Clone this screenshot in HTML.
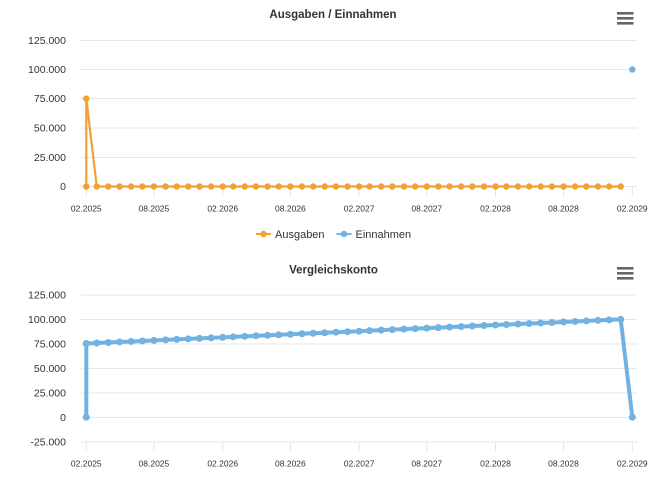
<!DOCTYPE html>
<html><head><meta charset="utf-8"><style>
html,body{margin:0;padding:0;background:#fff;}
svg{display:block;font-family:"Liberation Sans",sans-serif;}
.yl{font-size:10.5px;fill:#333;text-anchor:end;}
.xl{font-size:8.5px;fill:#333;text-anchor:middle;}
.t{font-size:11.5px;font-weight:bold;fill:#333;text-anchor:middle;}
.g{stroke:#e6e6e6;stroke-width:1;}
.tk{stroke:#e6e6e6;stroke-width:1;}
</style></head><body>
<svg width="659" height="483" viewBox="0 0 659 483" xmlns="http://www.w3.org/2000/svg">
<defs>
<marker id="mo" markerUnits="userSpaceOnUse" markerWidth="10" markerHeight="10" refX="5" refY="5"><circle cx="5" cy="5" r="3.2" fill="#f0a12f"/></marker>
<marker id="mb" markerUnits="userSpaceOnUse" markerWidth="12" markerHeight="12" refX="6" refY="6"><circle cx="6" cy="6" r="3.5" fill="#72b2e2"/></marker>
</defs>

<!-- TOP CHART -->
<text class="t" x="333" y="18">Ausgaben / Einnahmen</text>
<rect x="617" y="12" width="16.5" height="2.6" fill="#666"/>
<rect x="617" y="17" width="16.5" height="2.6" fill="#666"/>
<rect x="617" y="22" width="16.5" height="2.6" fill="#666"/>

<line class="g" x1="81" x2="637" y1="40.5" y2="40.5"/>
<line class="g" x1="81" x2="637" y1="69.5" y2="69.5"/>
<line class="g" x1="81" x2="637" y1="98.5" y2="98.5"/>
<line class="g" x1="81" x2="637" y1="128" y2="128"/>
<line class="g" x1="81" x2="637" y1="157.5" y2="157.5"/>
<line class="g" x1="81" x2="637" y1="186.5" y2="186.5"/>

<text class="yl" x="66" y="44.2">125.000</text>
<text class="yl" x="66" y="73.2">100.000</text>
<text class="yl" x="66" y="102.2">75.000</text>
<text class="yl" x="66" y="131.7">50.000</text>
<text class="yl" x="66" y="161.2">25.000</text>
<text class="yl" x="66" y="190.2">0</text>

<g class="tk">
<line x1="86.3" x2="86.3" y1="187" y2="197"/>
<line x1="153.9" x2="153.9" y1="187" y2="197"/>
<line x1="222.7" x2="222.7" y1="187" y2="197"/>
<line x1="290.4" x2="290.4" y1="187" y2="197"/>
<line x1="359.1" x2="359.1" y1="187" y2="197"/>
<line x1="426.8" x2="426.8" y1="187" y2="197"/>
<line x1="495.5" x2="495.5" y1="187" y2="197"/>
<line x1="563.5" x2="563.5" y1="187" y2="197"/>
<line x1="632.3" x2="632.3" y1="187" y2="197"/>
</g>
<text class="xl" x="86.3" y="211.7">02.2025</text>
<text class="xl" x="153.9" y="211.7">08.2025</text>
<text class="xl" x="222.7" y="211.7">02.2026</text>
<text class="xl" x="290.4" y="211.7">08.2026</text>
<text class="xl" x="359.1" y="211.7">02.2027</text>
<text class="xl" x="426.8" y="211.7">08.2027</text>
<text class="xl" x="495.5" y="211.7">02.2028</text>
<text class="xl" x="563.5" y="211.7">08.2028</text>
<text class="xl" x="632.3" y="211.7">02.2029</text>

<path fill="none" stroke="#f0a12f" stroke-width="2.2" stroke-linejoin="round" marker-start="url(#mo)" marker-mid="url(#mo)" marker-end="url(#mo)"
d="M86.3,186.5 L86.3,98.6 L96.76,186.5 L108.35,186.5 L119.56,186.5 L131.15,186.5 L142.36,186.5 L153.94,186.5 L165.53,186.5 L176.74,186.5 L188.32,186.5 L199.54,186.5 L211.12,186.5 L222.71,186.5 L233.17,186.5 L244.76,186.5 L255.97,186.5 L267.55,186.5 L278.77,186.5 L290.35,186.5 L301.94,186.5 L313.15,186.5 L324.73,186.5 L335.94,186.5 L347.53,186.5 L359.12,186.5 L369.58,186.5 L381.17,186.5 L392.38,186.5 L403.96,186.5 L415.17,186.5 L426.76,186.5 L438.34,186.5 L449.56,186.5 L461.14,186.5 L472.35,186.5 L483.94,186.5 L495.52,186.5 L506.36,186.5 L517.95,186.5 L529.16,186.5 L540.74,186.5 L551.95,186.5 L563.54,186.5 L575.13,186.5 L586.34,186.5 L597.92,186.5 L609.13,186.5 L620.72,186.5"/>
<circle cx="632.3" cy="69.5" r="3.2" fill="#72b2e2"/>

<!-- Legend -->
<line x1="256" x2="271" y1="234" y2="234" stroke="#f0a12f" stroke-width="2"/>
<circle cx="263.5" cy="234" r="3.2" fill="#f0a12f"/>
<text x="275" y="238" font-size="11" fill="#333">Ausgaben</text>
<line x1="336.5" x2="351.5" y1="234" y2="234" stroke="#72b2e2" stroke-width="2"/>
<circle cx="344" cy="234" r="3.2" fill="#72b2e2"/>
<text x="355.5" y="238" font-size="11" fill="#333">Einnahmen</text>

<!-- BOTTOM CHART -->
<text class="t" x="333.5" y="273.3">Vergleichskonto</text>
<rect x="617" y="267" width="16.5" height="2.6" fill="#666"/>
<rect x="617" y="272" width="16.5" height="2.6" fill="#666"/>
<rect x="617" y="277" width="16.5" height="2.6" fill="#666"/>

<line class="g" x1="81" x2="637" y1="295" y2="295"/>
<line class="g" x1="81" x2="637" y1="319.5" y2="319.5"/>
<line class="g" x1="81" x2="637" y1="344" y2="344"/>
<line class="g" x1="81" x2="637" y1="368.5" y2="368.5"/>
<line class="g" x1="81" x2="637" y1="393" y2="393"/>
<line class="g" x1="81" x2="637" y1="417.5" y2="417.5"/>
<line class="g" x1="81" x2="637" y1="442" y2="442"/>

<text class="yl" x="66" y="298.7">125.000</text>
<text class="yl" x="66" y="323.2">100.000</text>
<text class="yl" x="66" y="347.7">75.000</text>
<text class="yl" x="66" y="372.2">50.000</text>
<text class="yl" x="66" y="396.7">25.000</text>
<text class="yl" x="66" y="421.2">0</text>
<text class="yl" x="66" y="445.7">-25.000</text>

<g class="tk">
<line x1="86.3" x2="86.3" y1="442" y2="452"/>
<line x1="153.9" x2="153.9" y1="442" y2="452"/>
<line x1="222.7" x2="222.7" y1="442" y2="452"/>
<line x1="290.4" x2="290.4" y1="442" y2="452"/>
<line x1="359.1" x2="359.1" y1="442" y2="452"/>
<line x1="426.8" x2="426.8" y1="442" y2="452"/>
<line x1="495.5" x2="495.5" y1="442" y2="452"/>
<line x1="563.5" x2="563.5" y1="442" y2="452"/>
<line x1="632.3" x2="632.3" y1="442" y2="452"/>
</g>
<text class="xl" x="86.3" y="466.3">02.2025</text>
<text class="xl" x="153.9" y="466.3">08.2025</text>
<text class="xl" x="222.7" y="466.3">02.2026</text>
<text class="xl" x="290.4" y="466.3">08.2026</text>
<text class="xl" x="359.1" y="466.3">02.2027</text>
<text class="xl" x="426.8" y="466.3">08.2027</text>
<text class="xl" x="495.5" y="466.3">02.2028</text>
<text class="xl" x="563.5" y="466.3">08.2028</text>
<text class="xl" x="632.3" y="466.3">02.2029</text>

<path fill="none" stroke="#72b2e2" stroke-width="4" stroke-linejoin="round" marker-start="url(#mb)" marker-mid="url(#mb)" marker-end="url(#mb)"
d="M86.3,417.2 L86.3,343.5 L96.76,342.99 L108.35,342.47 L119.56,341.96 L131.15,341.45 L142.36,340.94 L153.94,340.42 L165.53,339.91 L176.74,339.40 L188.32,338.88 L199.54,338.37 L211.12,337.86 L222.71,337.34 L233.17,336.83 L244.76,336.32 L255.97,335.81 L267.55,335.29 L278.77,334.78 L290.35,334.27 L301.94,333.75 L313.15,333.24 L324.73,332.73 L335.94,332.21 L347.53,331.70 L359.12,331.19 L369.58,330.68 L381.17,330.16 L392.38,329.65 L403.96,329.14 L415.17,328.62 L426.76,328.11 L438.34,327.60 L449.56,327.08 L461.14,326.57 L472.35,326.06 L483.94,325.55 L495.52,325.03 L506.36,324.52 L517.95,324.01 L529.16,323.49 L540.74,322.98 L551.95,322.47 L563.54,321.95 L575.13,321.44 L586.34,320.93 L597.92,320.42 L609.13,319.90 L620.72,319.39 L632.3,417.2"/>
</svg>
</body></html>
